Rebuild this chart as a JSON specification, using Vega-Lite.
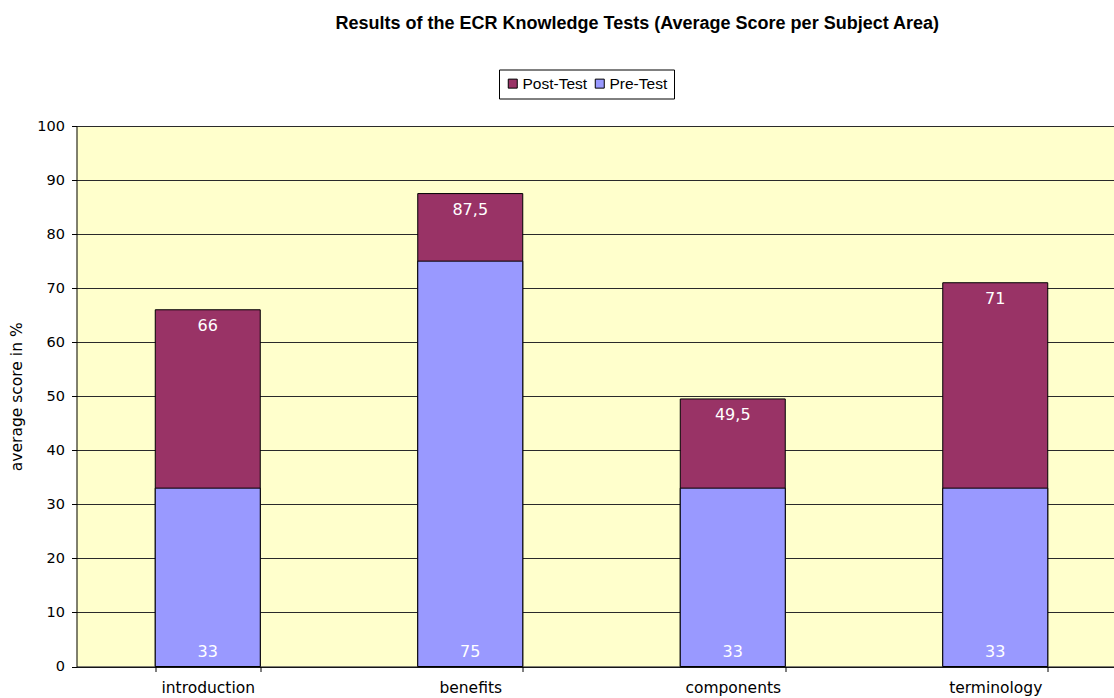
{
  "$schema": "https://vega.github.io/schema/vega-lite/v6.json",
  "autosize": {"type": "none"},
  "width": 1037.5,
  "height": 540.5,
  "padding": {"left": 76.5, "top": 126, "right": 0, "bottom": 31.5},
  "background": "white",
  "title": {
    "text": "Results of the ECR Knowledge Tests (Average Score per Subject Area)",
    "font": "Liberation Sans",
    "fontSize": 18,
    "fontWeight": "bold",
    "color": "black",
    "anchor": "middle",
    "dx": 42,
    "offset": 36
  },
  "data": {
    "values": [
      {"area": "introduction", "test": "Post-Test", "score": 66, "label": "66"},
      {"area": "benefits", "test": "Post-Test", "score": 87.5, "label": "87,5"},
      {"area": "components", "test": "Post-Test", "score": 49.5, "label": "49,5"},
      {"area": "terminology", "test": "Post-Test", "score": 71, "label": "71"},
      {"area": "introduction", "test": "Pre-Test", "score": 33, "label": "33"},
      {"area": "benefits", "test": "Pre-Test", "score": 75, "label": "75"},
      {"area": "components", "test": "Pre-Test", "score": 33, "label": "33"},
      {"area": "terminology", "test": "Pre-Test", "score": 33, "label": "33"}
    ]
  },
  "encoding": {
    "x": {
      "field": "area",
      "type": "nominal",
      "sort": ["introduction", "benefits", "components", "terminology"],
      "scale": {"range": [0, 1050], "paddingInner": 0.6, "paddingOuter": 0.3},
      "axis": {
        "title": null,
        "labelAngle": 0,
        "labelFont": "DejaVu Sans",
        "labelFontSize": 15.5,
        "labelColor": "black",
        "labelPadding": 9,
        "tickBand": "extent",
        "tickSize": 5,
        "tickColor": "black",
        "domainColor": "black",
        "grid": false
      }
    }
  },
  "layer": [
    {
      "mark": {"type": "bar", "stroke": "black", "strokeWidth": 1},
      "encoding": {
        "y": {
          "field": "score",
          "type": "quantitative",
          "stack": null,
          "scale": {"domain": [0, 100], "nice": false},
          "axis": {
            "title": "average score in %",
            "titleFont": "DejaVu Sans",
            "titleFontSize": 15.5,
            "titleFontWeight": "normal",
            "titleColor": "black",
            "titlePadding": 12,
            "values": [0, 10, 20, 30, 40, 50, 60, 70, 80, 90, 100],
            "labelFont": "DejaVu Sans",
            "labelFontSize": 14.5,
            "labelColor": "black",
            "labelPadding": 7,
            "tickSize": 5,
            "tickColor": "black",
            "domainColor": "black",
            "grid": true,
            "gridColor": "#2a2a2a",
            "gridWidth": 1,
            "gridOpacity": 1
          }
        },
        "color": {
          "field": "test",
          "type": "nominal",
          "scale": {"domain": ["Post-Test", "Pre-Test"], "range": ["#993366", "#9999FF"]},
          "legend": {
            "title": null,
            "orient": "none",
            "direction": "horizontal",
            "legendX": 422.5,
            "legendY": -56.5,
            "strokeColor": "black",
            "fillColor": "white",
            "padding": 6,
            "symbolType": "square",
            "symbolSize": 81,
            "symbolStrokeColor": "black",
            "symbolStrokeWidth": 1,
            "symbolOpacity": 1,
            "labelFont": "Liberation Sans",
            "labelFontSize": 15.5,
            "labelColor": "black",
            "labelOffset": 2,
            "columnPadding": 4
          }
        }
      }
    },
    {
      "transform": [{"filter": "datum.test === 'Post-Test'"}],
      "mark": {"type": "text", "font": "DejaVu Sans", "fontSize": 16, "color": "white", "baseline": "alphabetic", "dy": 21.5},
      "encoding": {
        "y": {"field": "score", "type": "quantitative"},
        "text": {"field": "label"}
      }
    },
    {
      "transform": [{"filter": "datum.test === 'Pre-Test'"}],
      "mark": {"type": "text", "font": "DejaVu Sans", "fontSize": 16, "color": "white", "baseline": "alphabetic", "dy": -10},
      "encoding": {
        "y": {"datum": 0, "type": "quantitative"},
        "text": {"field": "label"}
      }
    }
  ],
  "config": {
    "view": {"fill": "#FFFFCC", "stroke": null},
    "axis": {"domainWidth": 1, "tickWidth": 1}
  }
}
